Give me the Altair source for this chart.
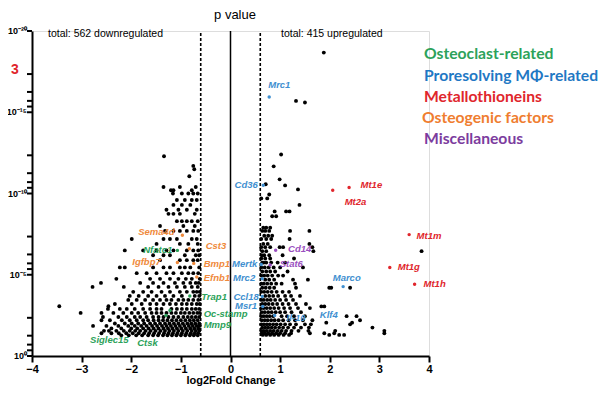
import altair as alt
import pandas as pd

# ---------------- data ----------------
# rows of (-log10 p, [log2 fold change ...]) for non-highlighted genes
down_rows = [
    (12.29, [-1.34]), (11.7, [-0.75]), (11.49, [-0.73]), (11.06, [-0.83]),
    (10.4, [-1.35, -1.02, -0.7]),
    (10.2, [-1.2, -0.78, -1.15]),
    (10.0, [-0.85, -1.16, -0.98, -0.75, -0.66]),
    (9.6, [-1.08, -0.92, -0.78, -0.68]),
    (9.3, [-1.15, -0.98, -0.81]),
    (9.0, [-1.05, -0.68, -1.29, -0.88]),
    (8.75, [-1.25, -1.15, -1.02, -0.72]),
    (8.3, [-1.08, -0.98, -0.88, -0.78, -0.66]),
    (8.0, [-1.42, -0.95, -0.72]),
    (7.7, [-1.32, -1.15, -1.02, -0.88, -0.75, -0.65]),
    (7.2, [-1.99, -1.35, -1.22, -1.08, -0.78, -0.68]),
    (6.9, [-1.49, -1.02, -0.85, -0.66]),
    (6.5, [-2.13, -1.76, -1.49, -1.29, -1.15, -0.88, -0.75, -0.65]),
    (6.2, [-1.56, -1.35, -1.22, -0.92, -0.7, -0.63]),
    (5.9, [-1.42, -1.02, -0.88, -0.75, -0.66]),
    (5.45, [-2.13, -2.23, -1.56, -1.35, -1.22, -1.02, -0.92, -0.81, -0.63]),
    (5.1, [-1.89, -1.69, -1.49, -1.29, -1.15, -0.98, -0.85, -0.75, -0.65]),
    (4.75, [-2.3, -1.62, -1.42, -1.22, -1.05, -0.9, -0.78, -0.62]),
    (4.5, [-2.61, -1.82, -1.56, -1.35, -1.12, -0.95, -0.81, -0.7, -0.64]),
    (4.25, [-2.78, -2.15, -1.66, -1.45, -1.25, -1.08, -0.92, -0.78, -0.66]),
    (3.95, [-1.96, -1.76, -1.59, -1.39, -1.22, -1.02, -0.88, -0.75, -0.68, -0.62]),
    (3.7, [-2.03, -1.85, -1.66, -1.49, -1.32, -1.15, -0.98, -0.72, -0.63]),
    (3.45, [-2.06, -1.89, -1.72, -1.56, -1.42, -1.29, -1.19, -1.05, -0.95, -0.85, -0.75, -0.65]),
    (3.2, [-2.33, -1.99, -1.79, -1.62, -1.49, -1.35, -1.22, -1.1, -0.98, -0.88, -0.78, -0.68, -0.62]),
    (3.06, [-3.45, -2.46]),
    (2.9, [-2.47, -2.23, -2.09, -1.93, -1.76, -1.62, -1.49, -1.39, -1.19, -1.08, -0.98, -0.88, -0.78, -0.7, -0.63]),
    (2.65, [-3.02, -2.6, -2.36, -2.16, -1.99, -1.86, -1.72, -1.59, -1.49, -1.39, -1.29, -1.19, -1.1, -1.0, -0.92, -0.83, -0.75, -0.67, -0.62]),
    (2.4, [-2.57, -2.26, -2.09, -1.93, -1.82, -1.69, -1.56, -1.45, -1.35, -1.25, -1.15, -1.05, -0.95, -0.86, -0.78, -0.7, -0.63]),
    (2.2, [-2.6, -2.43, -2.19, -2.03, -1.89, -1.76, -1.66, -1.55, -1.45, -1.36, -1.27, -1.18, -1.09, -1.0, -0.91, -0.82, -0.74, -0.66]),
    (2.0, [-2.33, -2.13, -1.99, -1.86, -1.74, -1.62, -1.52, -1.42, -1.32, -1.23, -1.14, -1.05, -0.96, -0.87, -0.79, -0.71, -0.63]),
    (1.85, [-2.77, -2.5, -2.26, -2.06, -1.93, -1.8, -1.69, -1.58, -1.48, -1.38, -1.29, -1.2, -1.11, -1.02, -0.93, -0.84, -0.76, -0.68, -0.62]),
    (1.7, [-2.4, -2.2, -2.0, -1.88, -1.76, -1.65, -1.55, -1.45, -1.35, -1.26, -1.17, -1.08, -0.99, -0.9, -0.81, -0.73, -0.65]),
    (1.55, [-2.55, -2.45, -2.3, -2.15, -2.03, -1.92, -1.82, -1.71, -1.61, -1.51, -1.41, -1.32, -1.23, -1.14, -1.05, -0.96, -0.87, -0.78, -0.7, -0.63]),
    (1.4, [-2.6, -2.4, -2.25, -2.1, -1.97, -1.85, -1.74, -1.64, -1.54, -1.44, -1.34, -1.25, -1.16, -1.07, -0.98, -0.89, -0.8, -0.72, -0.65]),
    (1.27, [-2.2, -2.05, -1.9, -1.78, -1.66, -1.56, -1.46, -1.36, -1.27, -1.18, -1.09, -1.0, -0.91, -0.82, -0.74, -0.66]),
]

up_rows = [
    (18.67, [1.88]), (15.7, [1.32]), (15.6, [1.5]), (12.4, [1.02]), (11.67, [0.87]),
    (10.87, [0.99]), (10.57, [0.71]), (10.5, [1.1]), (10.25, [1.36]), (9.94, [0.78]),
    (9.7, [0.62, 0.74]), (9.3, [1.39]),
    (8.9, [1.12, 1.19, 0.89]),
    (8.6, [0.84, 0.92]),
    (7.9, [0.66, 0.72, 0.8]),
    (7.7, [0.64, 0.78, 1.2, 1.59, 0.7]),
    (7.4, [0.68, 0.76, 0.84]),
    (7.2, [0.72, 0.82, 1.19, 0.62]),
    (6.9, [0.66, 0.75, 1.59]),
    (6.7, [0.99, 1.06, 0.7, 1.65, 0.62, 0.8]),
    (6.45, [0.64, 0.72, 1.67, 3.85]),
    (6.2, [0.63, 0.68, 0.78, 1.05]),
    (6.0, [0.62, 0.7, 0.8, 1.28]),
    (5.75, [0.64, 0.72, 0.82, 0.95, 1.1, 0.67]),
    (5.45, [0.62, 0.69, 0.77, 0.87, 1.0, 1.46]),
    (5.2, [0.64, 0.72, 0.8, 0.9, 1.15]),
    (4.95, [0.62, 0.68, 0.75, 0.84, 0.96, 1.06]),
    (4.7, [0.7, 0.78, 0.88, 1.26, 1.56]),
    (4.45, [0.62, 0.67, 0.74, 0.82, 0.92, 1.03, 1.3]),
    (4.2, [0.64, 0.71, 0.79, 0.88, 1.99, 2.03, 1.32, 2.41]),
    (3.95, [0.62, 0.68, 0.75, 0.83, 0.93, 1.05, 1.18]),
    (3.7, [0.7, 0.78, 0.86, 0.96, 1.1, 1.22, 1.4]),
    (3.45, [0.62, 0.67, 0.74, 0.81, 0.9, 1.0, 1.12, 1.26]),
    (3.2, [0.64, 0.7, 0.77, 0.85, 0.94, 1.05, 1.17, 1.32, 1.52]),
    (3.05, [1.83, 1.89]),
    (2.95, [0.62, 0.67, 0.73, 0.8, 0.88, 0.97, 1.08, 1.2, 1.36, 1.6]),
    (2.7, [0.63, 0.69, 0.76, 0.83, 0.91, 1.0, 1.1, 1.23, 1.42]),
    (2.45, [0.62, 0.67, 0.73, 0.79, 0.86, 1.03, 1.14, 1.28, 1.5, 2.34, 2.54]),
    (2.2, [0.63, 0.69, 0.75, 0.82, 0.89, 0.97, 1.06, 1.17, 1.3, 1.46, 1.65, 2.61]),
    (2.05, [1.93, 2.45]),
    (1.95, [0.62, 0.67, 0.73, 0.79, 0.86, 0.93, 1.01, 1.1, 1.2, 1.32, 1.5, 1.62, 2.41]),
    (1.75, [0.64, 0.7, 0.76, 0.83, 0.9, 0.98, 1.06, 1.16, 1.28, 1.42, 1.58, 2.86]),
    (1.55, [0.62, 0.67, 0.73, 0.8, 0.87, 0.95, 1.03, 1.12, 1.23, 1.37, 1.57, 2.11, 3.1]),
    (1.4, [0.63, 0.69, 0.76, 0.84, 0.92, 1.0, 1.1, 1.22, 1.6, 1.89, 2.09, 3.1]),
    (1.3, [0.65, 0.72, 0.8, 0.88, 0.97, 1.07, 1.18, 1.99, 2.19, 2.29]),
]

# highlighted genes: name, log2FC, -log10 p, group
hl_genes = ["Sema4d", "Cst3", "Igfbp7", "Bmp1", "Efnb1",
            "Nfatc1", "Trap1", "Oc-stamp", "Mmp9",
            "Mrc1", "Cd36", "Marco", "Mertk", "Mrc2", "Ccl18", "Msr1", "Il-10",
            "Mt1e", "Mt2a", "Mt1m", "Mt1g", "Mt1h",
            "Cd14", "Stat6"]
hl_lfc = [-0.97, -0.83, -1.07, -0.74, -0.68,
          -1.07, -0.82, -1.3, -1.22,
          0.78, 0.66, 2.27, 0.62, 0.64, 0.64, 0.65, 0.89,
          2.39, 2.06, 3.6, 3.21, 3.71,
          0.91, 0.8]
hl_nlp = [7.43, 6.6, 5.75, 5.7, 4.86,
          6.5, 3.69, 2.5, 2.8,
          15.94, 10.51, 4.27, 5.63, 4.75, 3.66, 3.05, 2.49,
          10.37, 10.2, 7.47, 5.44, 4.41,
          6.51, 5.6]
hl_group = ["og"] * 5 + ["oc"] * 4 + ["pr"] * 8 + ["mt"] * 5 + ["mi"] * 2

# gene labels: text, x, y (data units), colour group
lab_text = ["Mrc1", "Cd36", "Mt1e", "Mt2a", "Mt1m", "Mt1g", "Mt1h", "Marco",
            "Cd14", "Stat6", "Mertk", "Mrc2", "Ccl18", "Msr1", "Il-10", "Klf4",
            "Sema4d", "Cst3", "Igfbp7", "Bmp1", "Efnb1",
            "Nfatc1", "Trap1", "Oc-stamp", "Mmp9", "Siglec15", "Ctsk"]
lab_x = [0.76, 0.55, 2.62, 2.3, 3.75, 3.37, 3.89, 2.06,
         1.16, 0.99, 0.03, 0.05, 0.06, 0.09, 1.13, 1.8,
         -1.86, -0.5, -1.98, -0.54, -0.54,
         -1.76, -0.59, -0.54, -0.54, -2.83, -1.88]
lab_y = [16.7, 10.5, 10.5, 9.5, 7.4, 5.46, 4.41, 4.8,
         6.56, 5.69, 5.69, 4.77, 3.66, 3.05, 2.36, 2.55,
         7.66, 6.74, 5.76, 5.69, 4.78,
         6.5, 3.66, 2.6, 1.88, 0.98, 0.78]
lab_group = ["pr", "pr", "mt", "mt", "mt", "mt", "mt", "pr",
             "mi", "mi", "pr", "pr", "pr", "pr", "pr", "pr",
             "og", "og", "og", "og", "og",
             "oc", "oc", "oc", "oc", "oc", "oc"]

legend_text = ["Osteoclast-related", "Proresolving M\u03a6-related", "Metallothioneins",
               "Osteogenic factors", "Miscellaneous"]
legend_color = ["#2ca25a", "#1f78c4", "#e0262c", "#ef7d2f", "#7c3c9e"]

x_ticks = [-4, -3, -2, -1, 0, 1, 2, 3, 4]
y_major = [0, 5, 10, 15, 20]
y_major_text = ["10\u2070", "10\u207b\u2075", "10\u207b\u00b9\u2070",
                "10\u207b\u00b9\u2075", "10\u207b\u00b2\u2070"]
y_minor = [b + d for b in [0, 5, 10, 15] for d in [0.35, 0.7, 1.25, 2.35]]

# ---------------- build tables ----------------
pts = []
for y, xs_ in down_rows + up_rows:
    for x in xs_:
        pts.append({"lfc": x, "nlp": y})
pts_df = pd.DataFrame(pts)

hl_df = pd.DataFrame({"gene": hl_genes, "lfc": hl_lfc, "nlp": hl_nlp, "group": hl_group})
lab_df = pd.DataFrame({"text": lab_text, "lfc": lab_x, "nlp": lab_y, "group": lab_group})
lab_df["align"] = ["right" if t == "Cd36" else "left" for t in lab_text]
ylab_df = pd.DataFrame({"nlp": y_major, "t": y_major_text})
ytick_df = pd.DataFrame({"nlp": y_major + y_minor})

pt_colors = alt.Scale(domain=["oc", "pr", "mt", "og", "mi"],
                      range=["#2ca25a", "#3f8fd0", "#e0262c", "#ef8a3c", "#9a4fc0"])
lab_colors = alt.Scale(domain=["oc", "pr", "mt", "og", "mi"],
                       range=["#33993a", "#5a5cc4", "#e0262c", "#ef8438", "#a04cc0"])

W, H = 397, 325
xs = alt.Scale(domain=[-4, 4], nice=False, zero=False)
ys = alt.Scale(domain=[0, 20], nice=False, zero=False)

base_pts = alt.Chart(pts_df).mark_circle(size=15, color="black", opacity=1).encode(
    x=alt.X("lfc:Q", scale=xs,
            axis=alt.Axis(values=x_ticks, title="log2Fold Change", grid=False,
                          labelFlush=False,
                          labelFont="Liberation Sans", labelFontWeight="bold", labelFontSize=11,
                          titleFont="Liberation Sans", titleFontWeight="bold", titleFontSize=11,
                          titlePadding=0, domainColor="black", domainWidth=2,
                          tickColor="black", tickWidth=2, tickSize=6, labelColor="black",
                          titleColor="black", labelPadding=1)),
    y=alt.Y("nlp:Q", scale=ys,
            axis=alt.Axis(labels=False, ticks=False, title=None, grid=False,
                          domainColor="black", domainWidth=2)),
)

rules_df = pd.DataFrame({"lfc": [-0.6, 0.6], "y0": [0, 0], "y1": [20, 20]})
dashed = alt.Chart(rules_df).mark_rule(color="black", strokeWidth=1.6, strokeDash=[3, 2]).encode(
    x=alt.X("lfc:Q", scale=xs), y=alt.Y("y0:Q", scale=ys), y2="y1:Q")
center = alt.Chart(pd.DataFrame({"lfc": [0], "y0": [0], "y1": [20]})).mark_rule(
    color="black", strokeWidth=1.5).encode(
    x=alt.X("lfc:Q", scale=xs), y=alt.Y("y0:Q", scale=ys), y2="y1:Q")

yticks = alt.Chart(ytick_df).mark_rule(color="black", strokeWidth=2).encode(
    x=alt.value(-5), x2=alt.value(0), y=alt.Y("nlp:Q", scale=ys))

hl_pts = alt.Chart(hl_df).mark_circle(size=12, opacity=1).encode(
    x=alt.X("lfc:Q", scale=xs), y=alt.Y("nlp:Q", scale=ys),
    color=alt.Color("group:N", scale=pt_colors, legend=None))

labels_left = alt.Chart(lab_df[lab_df["align"] == "left"]).mark_text(
    align="left", baseline="middle", font="Liberation Sans", fontSize=9.5,
    fontWeight="bold", fontStyle="italic").encode(
    x=alt.X("lfc:Q", scale=xs), y=alt.Y("nlp:Q", scale=ys), text="text:N",
    color=alt.Color("group:N", scale=lab_colors, legend=None))
labels_right = alt.Chart(lab_df[lab_df["align"] == "right"]).mark_text(
    align="right", baseline="middle", font="Liberation Sans", fontSize=9.5,
    fontWeight="bold", fontStyle="italic").encode(
    x=alt.X("lfc:Q", scale=xs), y=alt.Y("nlp:Q", scale=ys), text="text:N",
    color=alt.Color("group:N", scale=lab_colors, legend=None))

ylabels = alt.Chart(ylab_df).mark_text(
    align="right", baseline="middle", font="Liberation Sans", fontSize=9,
    fontWeight="bold", color="black").encode(
    x=alt.value(-5), y=alt.Y("nlp:Q", scale=ys), text="t:N")

# free texts (pixel positions relative to plot area)
def txt(s, x, y, size, color="black", weight="normal", align="left", font="Liberation Sans"):
    return alt.Chart(pd.DataFrame({"t": [s]})).mark_text(
        align=align, baseline="middle", fontSize=size, fontWeight=weight, color=color,
        font=font).encode(x=alt.value(x), y=alt.value(y), text="t:N")

texts = [
    txt("total: 562 downregulated", 16, 3, 10.5),
    txt("total: 415 upregulated", 249, 3, 10.5),
    txt("p value", 203, -16, 13, align="center"),
    txt("3", -21, 39, 14, color="#e0262c", weight="bold"),
]
leg_y = [23, 45, 66, 87, 108]
leg_x = [392, 392, 392, 390, 392]
for s, c, lx, ly in zip(legend_text, legend_color, leg_x, leg_y):
    texts.append(txt(s, lx, ly, 15.7, color=c, weight="bold", font="Lato"))

chart = alt.layer(dashed, center, base_pts, yticks, hl_pts, labels_left, labels_right, ylabels,
                  *texts).properties(
    width=W, height=H,
    padding={"left": 24, "top": 23, "right": 172, "bottom": 30},
    autosize=alt.AutoSizeParams(type="none"),
).configure_view(stroke=None).configure(background="white")

chart.save("out.html", embed_options={"renderer": "svg", "actions": False})
